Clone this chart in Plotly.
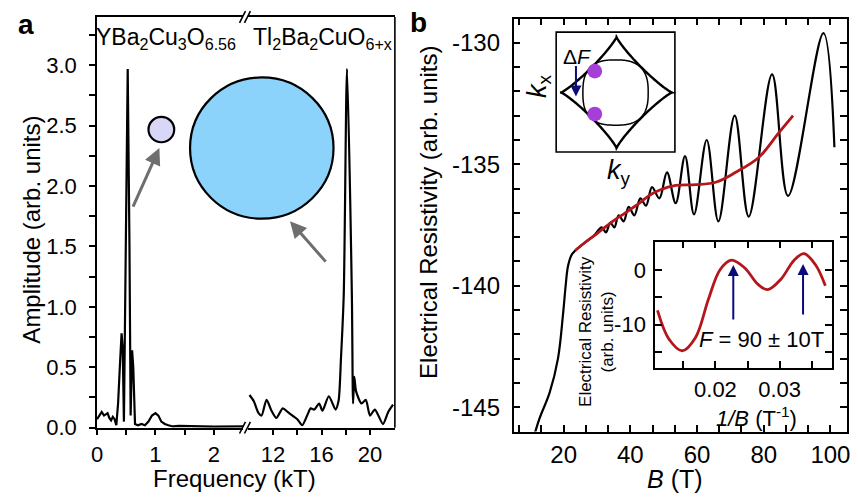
import numpy as np
import plotly.graph_objects as go

W, H = 858, 503
FONT = "Liberation Sans, Arial, sans-serif"


def px(x):
    return x / W


def py(y):
    return 1 - y / H


# ---------------- data: panel a (FFT amplitude) ----------------
ybco_freq = [0.0, 0.04, 0.08, 0.12, 0.15, 0.18, 0.21, 0.24, 0.27, 0.30, 0.33, 0.36, 0.39,
             0.42, 0.44, 0.46, 0.49, 0.525, 0.555, 0.575, 0.60, 0.62, 0.65, 0.70, 0.76,
             0.82, 0.88, 0.94, 1.00, 1.05, 1.10, 1.16, 1.22, 1.30, 1.40, 1.60, 1.80, 2.00,
             2.20, 2.40, 2.54]
ybco_amp = [0.07, 0.10, 0.13, 0.10, 0.11, 0.12, 0.08, 0.06, 0.09, 0.07, 0.02, 0.20, 0.50,
            0.78, 0.65, 0.05, 1.40, 2.97, 1.50, 0.10, 0.64, 0.50, 0.03, 0.02, 0.03,
            0.02, 0.05, 0.10, 0.12, 0.10, 0.05, 0.03, 0.02, 0.01, 0.015, 0.01, 0.01, 0.008,
            0.01, 0.01, 0.01]

tl_freq = [10.05, 10.4, 10.8, 11.05, 11.46, 11.87, 12.27, 12.8, 13.2, 13.6, 14.0, 14.4,
           14.85, 15.1, 15.4, 15.8, 16.07, 16.6, 17.15, 17.4, 17.6, 17.83, 18.1, 18.5,
           18.6, 18.7, 18.85, 19.3, 19.65, 20.0, 20.4, 21.07, 21.5, 21.9]
tl_amp = [0.27, 0.22, 0.12, 0.10, 0.23, 0.14, 0.08, 0.16, 0.13, 0.10, 0.07, 0.02,
          0.11, 0.16, 0.15, 0.20, 0.14, 0.26, 0.15, 0.22, 0.57, 1.10, 2.97, 1.10,
          0.20, 0.42, 0.30, 0.20, 0.23, 0.10, 0.15, 0.03, 0.13, 0.19]

# ---------------- data: panel b (resistivity vs field) ----------------
res_B = [11.3, 12.8, 15.8, 18.3, 19.8, 20.6, 21.3, 22.3, 23.5, 26.3, 29.0, 31.4, 32.7,
         34.0, 35.2, 36.5, 38.0, 39.5, 41.2, 43.0, 44.7, 46.5, 48.7, 51.0, 53.6, 56.4,
         59.1, 62.9, 66.4, 71.3, 75.5, 82.5, 87.3, 97.9, 101.2]
res_val = [-146.1, -145.45, -144.4, -143.0, -141.2, -140.0, -139.2, -138.75, -138.55,
           -138.23, -137.95, -137.6, -137.8, -137.4, -137.6, -137.1, -137.35, -136.75,
           -137.1, -136.4, -136.7, -135.94, -136.4, -135.33, -136.6, -134.66, -137.06,
           -134.0, -137.35, -133.0, -137.15, -131.3, -136.3, -129.6, -134.3]

bg_B = [23.5, 26.3, 30.0, 34.7, 38.5, 42.7, 45.5, 48.7, 53.6, 59.6, 65.6, 71.6, 78.5,
        84.5, 88.8]
bg_val = [-138.55, -138.23, -137.85, -137.35, -137.0, -136.6, -136.3, -136.07, -135.87,
          -135.84, -135.74, -135.33, -134.72, -133.71, -133.0]

inv_B = [0.01097, 0.01277, 0.01482, 0.01688, 0.01892, 0.02072, 0.0225, 0.02457, 0.0266,
         0.02815, 0.0302, 0.03226, 0.0338, 0.03559, 0.03713]
osc_val = [-7.4, -12.7, -14.8, -12.4, -5.3, 0.05, 1.8, 0.36, -2.6, -3.6, -1.7, 1.8, 3.0,
           0.95, -2.9]

a_y_ticks = [0.0, 0.5, 1.0, 1.5, 2.0, 2.5, 3.0]
b_y_ticks = [-145, -140, -135, -130]
b_x_ticks = [20, 40, 60, 80, 100]
in_y_ticks = [-10, 0]
in_x_ticks = [0.02, 0.03]

BLACK = "#000000"
RED = "#b3161b"
NAVY = "#0b0b7a"

fig = go.Figure()
fig.add_trace(go.Scatter(x=ybco_freq, y=ybco_amp, mode="lines", xaxis="x", yaxis="y",
                         line=dict(color=BLACK, width=2.2)))
fig.add_trace(go.Scatter(x=tl_freq, y=tl_amp, mode="lines", xaxis="x2", yaxis="y",
                         line=dict(color=BLACK, width=2.2, shape="spline", smoothing=0.7)))
fig.add_trace(go.Scatter(x=res_B, y=res_val, mode="lines", xaxis="x3", yaxis="y3",
                         line=dict(color=BLACK, width=2.2, shape="spline", smoothing=1.0)))
fig.add_trace(go.Scatter(x=bg_B, y=bg_val, mode="lines", xaxis="x3", yaxis="y3",
                         line=dict(color=RED, width=2.8, shape="spline", smoothing=1.0)))
fig.add_trace(go.Scatter(x=inv_B, y=osc_val, mode="lines", xaxis="x4", yaxis="y4",
                         line=dict(color=RED, width=2.8, shape="spline", smoothing=1.0)))

tickfont_a = dict(family=FONT, size=22, color=BLACK)
tickfont_b = dict(family=FONT, size=24, color=BLACK)
tickfont_in = dict(family=FONT, size=22, color=BLACK)

common_line = dict(showline=True, linecolor=BLACK, linewidth=1.6, showgrid=False,
                   zeroline=False, tickcolor=BLACK, tickwidth=1.5)

# panel a geometry
A_L, A_BRK, A_R = 92, 242, 393
A_B = 439
A_T = A_B - 3.4 * 124

fig.update_layout(
    width=W, height=H, margin=dict(l=0, r=0, t=0, b=0),
    paper_bgcolor="white", plot_bgcolor="white", showlegend=False,
    xaxis=dict(domain=[px(A_L), px(A_BRK)], range=[0, 2.54], anchor="y",
               tickvals=[0, 1, 2], ticktext=["0", "1", "2"], ticks="outside", ticklen=6,
               minor=dict(tickvals=[0.5, 1.5], ticks="outside", ticklen=6, tickcolor=BLACK,
                          tickwidth=1.5),
               mirror=True, tickfont=tickfont_a, ticklabelstandoff=0, **common_line),
    xaxis2=dict(domain=[px(A_BRK), px(A_R)], range=[9.72, 22.05], anchor="y",
                tickvals=[12, 16, 20], ticktext=["12", "16", "20"], ticks="outside", ticklen=6,
                minor=dict(tickvals=[14, 18], ticks="outside", ticklen=6, tickcolor=BLACK,
                           tickwidth=1.5),
                mirror=True, tickfont=tickfont_a, ticklabelstandoff=0, **common_line),
    yaxis=dict(domain=[py(A_B), py(A_T)], range=[0, 3.4], anchor="x",
               tickvals=a_y_ticks, ticktext=[f"{v:.1f}" for v in a_y_ticks],
               ticks="outside", ticklen=6,
               minor=dict(dtick=0.25, ticks="outside", ticklen=6, tickcolor=BLACK, tickwidth=1.5),
               tickfont=tickfont_a, ticklabelstandoff=8, **common_line),
    xaxis3=dict(domain=[px(513), px(850)], range=[5, 105], anchor="y3",
                tickvals=b_x_ticks, ticktext=[str(v) for v in b_x_ticks],
                ticks="inside", ticklen=7, mirror="allticks",
                minor=dict(dtick=20 / 3, ticks="inside", ticklen=7, tickcolor=BLACK,
                           tickwidth=1.5, showgrid=False),
                tickfont=tickfont_b, ticklabelstandoff=1, **common_line),
    yaxis3=dict(domain=[py(443), py(19)], range=[-146, -129], anchor="x3",
                tickvals=b_y_ticks, ticktext=[str(v) for v in b_y_ticks],
                ticks="inside", ticklen=7, mirror="allticks",
                minor=dict(dtick=1, ticks="inside", ticklen=7, tickcolor=BLACK, tickwidth=1.5),
                tickfont=tickfont_b, ticklabelstandoff=7, **common_line),
    xaxis4=dict(domain=[px(656), px(835)], range=[0.0106, 0.0382], anchor="y4",
                tickvals=in_x_ticks, ticktext=["0.02", "0.03"],
                ticks="inside", ticklen=7, mirror="allticks",
                minor=dict(tickvals=[0.015, 0.025, 0.035], ticks="inside", ticklen=7,
                           tickcolor=BLACK, tickwidth=1.5),
                tickfont=tickfont_in, ticklabelstandoff=1, **common_line),
    yaxis4=dict(domain=[py(378), py(248)], range=[-18, 5.2], anchor="x4",
                tickvals=in_y_ticks, ticktext=["-10", "0"],
                ticks="inside", ticklen=7, mirror="allticks",
                minor=dict(tickvals=[-15, -5], ticks="inside", ticklen=7, tickcolor=BLACK,
                           tickwidth=1.5),
                tickfont=tickfont_in, ticklabelstandoff=3, **common_line),
)

shapes = []
# right border of panel a
shapes.append(dict(type="line", xref="paper", yref="paper", x0=px(A_R), x1=px(A_R),
                   y0=py(A_B), y1=py(A_T), line=dict(color=BLACK, width=1.6)))
# axis break marks
for yy in (A_B, A_T):
    shapes.append(dict(type="rect", xref="paper", yref="paper", x0=px(239.5), x1=px(244.5),
                       y0=py(yy + 3), y1=py(yy - 3), line=dict(width=0), fillcolor="white"))
    for dx in (-3, 2):
        shapes.append(dict(type="line", xref="paper", yref="paper",
                           x0=px(A_BRK + dx - 3), y0=py(yy + 6),
                           x1=px(A_BRK + dx + 3), y1=py(yy - 6),
                           line=dict(color=BLACK, width=1.6)))


def circle(cx, cy, r, fill, lw=2.2):
    line = dict(color=BLACK, width=lw) if lw > 0 else dict(width=0)
    return dict(type="circle", xref="paper", yref="paper", x0=px(cx - r), x1=px(cx + r),
                y0=py(cy + r), y1=py(cy - r), fillcolor=fill, line=line)


# Fermi-surface circles (panel a)
shapes.append(circle(157, 133, 13, "#d9d7f7"))
shapes.append(circle(258.5, 152, 72.5, "#8bd3fb"))

# inset 1: Fermi surface sketch
shapes.append(dict(type="rect", xref="paper", yref="paper", x0=px(556), x1=px(676),
                   y0=py(156), y1=py(33), fillcolor="white", line=dict(color=BLACK, width=1.6)))


def sq_path(cx, cy, ax, ay, p, n=300):
    t = np.linspace(0, 2 * np.pi, n)
    c, s = np.cos(t), np.sin(t)
    xs = cx + ax * np.sign(c) * np.abs(c) ** p
    ys = cy - ay * np.sign(s) * np.abs(s) ** p
    pts = [f"{px(x):.5f},{py(y):.5f}" for x, y in zip(xs, ys)]
    return "M " + " L ".join(pts) + " Z"


shapes.append(dict(type="path", xref="paper", yref="paper",
                   path=sq_path(617, 95, 56, 57, 2.3), line=dict(color=BLACK, width=2.4)))
shapes.append(dict(type="path", xref="paper", yref="paper",
                   path=sq_path(616, 95, 33, 33.5, 0.75), line=dict(color=BLACK, width=1.5)))
shapes.append(circle(595, 73, 7.5, "#a63fd6", lw=0))
shapes.append(circle(595, 117, 7.5, "#a63fd6", lw=0))
fig.update_layout(shapes=shapes)

ann = []


def text(x, y, t, size, angle=0, xanchor="center", yanchor="middle", color=BLACK):
    ann.append(dict(x=px(x), y=py(y), xref="paper", yref="paper", text=t, showarrow=False,
                    font=dict(family=FONT, size=size, color=color), textangle=angle,
                    xanchor=xanchor, yanchor=yanchor))


def arrow(x_tip, y_tip, x_tail, y_tail, color, width):
    ann.append(dict(x=px(x_tip), y=py(y_tip), xref="paper", yref="paper",
                    ax=x_tail - x_tip, ay=y_tail - y_tip, axref="pixel", ayref="pixel",
                    showarrow=True, arrowhead=2, arrowsize=1.1, arrowwidth=width,
                    arrowcolor=color, text=""))


text(20, 25, "<b>a</b>", 28)
text(417, 23, "<b>b</b>", 28)
text(89, 40, "YBa<sub>2</sub>Cu<sub>3</sub>O<sub>6.56</sub>", 23, xanchor="left")
text(248, 40, "Tl<sub>2</sub>Ba<sub>2</sub>CuO<sub>6+x</sub>", 23, xanchor="left")
text(231, 491, "Frequency (kT)", 24)
text(26, 236, "Amplitude (arb. units)", 24, angle=-90)
text(427, 218, "Electrical Resistivity (arb. units)", 24, angle=-90)
text(676, 492, "<i>B</i> (T)", 25)
text(538, 88, "<i>k</i><sub>x</sub>", 27, angle=-90)
text(620, 177, "<i>k</i><sub>y</sub>", 27)
text(577, 58, "Δ<i>F</i>", 21)
text(764, 349, "<i>F</i> = 90 ± 10T", 22)
text(758, 428, "<i>1/B</i> (T<sup>-1</sup>)", 22)
text(596, 340, "Electrical Resistivity<br>(arb. units)", 17, angle=-90)

arrow(155, 152, 128, 212, "#6e6e6e", 3)
arrow(287, 227, 324, 269, "#6e6e6e", 3)
arrow(576, 99, 576, 67, NAVY, 2)
arrow(735, 272, 735, 328, NAVY, 2)
arrow(805.5, 271, 805.5, 323, NAVY, 2)

fig.update_layout(annotations=ann)
fig.write_html("out.html", config={"displayModeBar": False},
               post_script="document.body.style.margin='0px';")
